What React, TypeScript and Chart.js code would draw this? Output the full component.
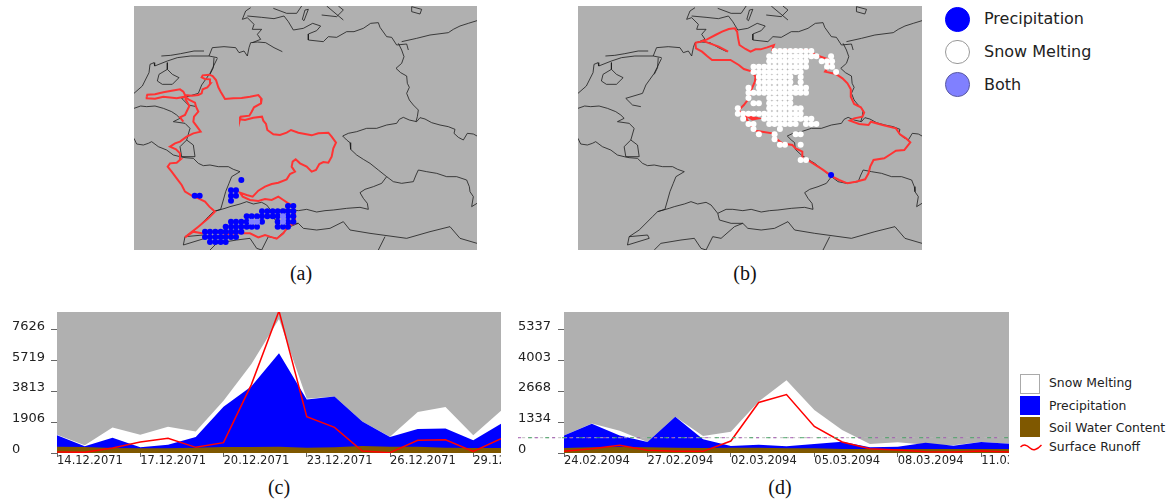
import React, { useEffect, useRef } from "react";
import { Chart, registerables } from "chart.js";

Chart.register(...registerables);

// ---------- map data (map units: 3 units per reference pixel) ----------
const borderPaths: number[][][] = [
  [[94,168],[122,166],[152,161],[192,153],[222,153]],
  [[237,168],[247,143],[282,140],[317,143],[327,158],[342,153],[352,168],[357,143],[362,128],[382,126],[407,128],[432,143],[457,155]],
  [[367,128],[392,118],[382,103],[395,88],[367,88],[372,73],[352,53],[337,58],[347,33],[362,23]],
  [[352,48],[395,52],[432,56],[462,48],[475,65],[490,90],[520,85],[548,70],[572,78],[560,92],[535,102],[535,120],[580,125],[595,110],[620,112],[650,95],[672,95],[700,85],[722,70],[745,68],[750,82],[770,110],[785,112],[800,135],[830,132],[835,150]],
  [[12,280],[37,258],[57,218],[60,193],[72,188],[74,198],[112,183],[142,173],[182,168],[237,168],[262,173]],
  [[112,188],[112,208],[87,223],[82,243],[97,253],[127,253],[147,233],[127,223],[112,208]],
  [[252,173],[250,203],[240,223]],
  [[815,125],[860,115],[900,105],[955,98],[970,88],[990,78],[1015,70],[1041,62]],
  [[805,130],[815,150],[822,170],[815,190],[798,205],[812,218],[830,228],[832,250],[838,262],[830,280],[838,300],[850,315],[865,330],[862,350],[858,365]],
  [[860,365],[870,353],[885,357],[905,368],[930,375],[955,380],[975,388],[972,400],[985,412],[1000,420],[1012,400],[1030,402],[1041,408]],
  [[860,365],[838,360],[820,352],[808,358],[800,370],[770,375],[740,385],[710,385],[680,395],[655,400],[638,408],[650,420],[660,428],[662,448],[680,465],[700,478],[720,490],[745,510],[770,530]],
  [[770,530],[790,545],[815,550],[850,545],[858,525],[865,510],[890,515],[920,520],[950,530],[980,530],[1010,540],[1018,560],[1020,575],[1030,590],[1025,620],[1041,610]],
  [[770,530],[755,550],[730,560],[705,568],[690,578],[700,595],[712,610],[715,628],[690,622],[650,625],[610,630],[585,632],[560,636],[530,628],[505,632],[475,628],[455,628],[430,640],[410,615],[395,607],[370,612],[350,605],[330,612],[300,620],[285,625],[250,635]],
  [[250,635],[272,628],[280,600],[287,575],[297,550],[305,530],[330,515],[310,508],[295,500],[265,500],[240,495],[220,497],[205,490],[190,475],[165,473],[150,470],[130,465],[110,450],[85,440],[65,425],[55,430],[40,435],[20,432],[12,415]],
  [[262,175],[240,220],[215,255],[205,280],[155,295],[175,315],[200,320]],
  [[12,325],[32,318],[50,320],[75,318],[100,325],[125,335],[140,345],[150,355],[130,365],[165,370],[180,385],[170,420]],
  [[170,420],[150,440],[155,470],[195,470],[190,435],[170,420]],
  [[250,635],[235,650],[195,690],[165,710],[160,735],[225,715],[220,705],[165,710]],
  [[240,750],[260,730],[320,720],[360,715],[380,745],[395,750],[415,710],[440,715],[480,680],[505,670],[520,685],[560,690],[600,685],[640,665],[660,690],[720,700],[830,715],[900,695],[960,680],[990,715],[1041,730]],
  [[430,640],[435,660],[470,670],[505,670]],
  [[765,710],[745,750]],
  [[845,20],[875,28],[870,42],[845,35],[845,20]],
  [[525,30],[535,28],[522,62],[517,58],[525,30]],
  [[575,45],[620,50],[640,30],[625,18]],
  [[590,18],[640,60]],
  [[430,25],[470,40],[500,40],[515,18]],
];

const rhineBasin: number[][] = [
  [50,290],[52,284],[75,283],[100,277],[125,272],[150,268],[160,275],[165,285],[185,287],[205,285],[215,280],[218,268],[232,262],[242,250],[240,238],[225,237],[215,232],[218,226],[238,224],[248,228],[258,240],[265,262],[272,275],[285,297],[310,295],[335,294],[360,290],[385,285],[395,297],[393,310],[372,322],[365,335],[358,347],[332,350],[330,358],[345,360],[370,353],[396,350],[400,362],[408,372],[412,390],[430,403],[450,405],[470,398],[483,390],[505,398],[525,402],[545,406],[565,400],[595,398],[605,410],[618,428],[610,445],[605,470],[595,488],[580,486],[568,492],[558,510],[545,515],[530,500],[510,490],[497,478],[488,485],[485,500],[495,515],[480,522],[470,538],[445,548],[425,552],[405,560],[385,572],[368,590],[350,585],[330,578],[338,590],[360,600],[385,603],[405,597],[425,600],[445,590],[460,600],[475,610],[490,618],[495,640],[495,670],[475,678],[460,700],[440,716],[420,710],[405,705],[385,712],[360,700],[325,700],[290,702],[250,695],[215,700],[190,695],[165,712],[180,700],[205,680],[235,655],[255,635],[238,620],[225,605],[205,595],[190,590],[165,575],[155,555],[140,535],[125,515],[113,500],[120,490],[140,488],[152,478],[150,460],[138,448],[120,440],[135,430],[150,425],[170,410],[190,400],[212,395],[205,385],[190,365],[192,350],[205,335],[198,320],[195,308],[178,300],[165,290],[140,295],[100,290],[75,296],[50,295],[50,290],
];
const rhineBranch: number[][] = [[165,295],[178,318],[165,345],[150,352],[160,365]];

const elbeBasin: number[][] = [
  [363,128],[378,125],[398,118],[423,105],[443,95],[463,87],[481,85],[488,95],[491,115],[495,135],[513,147],[528,155],[543,148],[558,148],[578,142],[598,135],[593,150],[650,150],[703,150],[723,165],[760,178],[761,200],[751,215],[783,222],[803,235],[818,250],[828,268],[828,290],[838,312],[858,322],[868,338],[863,350],[838,355],[825,362],[853,372],[881,375],[888,365],[923,375],[963,385],[975,403],[993,415],[1006,427],[988,450],[963,452],[948,462],[928,475],[896,480],[886,500],[881,520],[871,538],[843,545],[818,550],[793,540],[773,530],[743,508],[703,483],[683,475],[683,455],[663,445],[653,435],[623,430],[603,415],[593,400],[563,395],[543,392],[528,375],[518,360],[513,345],[533,358],[551,355],[528,350],[503,345],[493,330],[508,315],[521,298],[528,275],[541,245],[543,230],[533,215],[508,207],[493,195],[468,180],[443,180],[413,180],[398,168],[383,155],[365,145],[363,128],
];
const elbeEstuary: number[][] = [[383,122],[433,140],[461,155]];

const precipRowsA: [number, number[]][] = [
  [540,[334]],
  [571,[303,318]],
  [587,[194,209,303,318]],
  [602,[303]],
  [618,[474,490]],
  [634,[396,412,428,443,459,474,490]],
  [649,[350,365,381,396,412,428,443,474,490]],
  [665,[303,318,334,350,396,443,474,490]],
  [680,[287,303,318,334,350,365,381,443,459,474]],
  [695,[225,240,256,272,287,303,318,334]],
  [711,[225,240,256,272,287,303,318]],
  [726,[240,256,272,287]],
];
const bothRowsA: [number, number[]][] = [
  [649,[459]],
  [665,[365,381,459]],
];
const snowRowsB: [number, number[]][] = [
  [153,[600,616,631,647,663,678,694,710]],
  [169,[584,600,616,631,647,663,678,694,710,725,769]],
  [184,[584,600,616,631,647,663,678,694,741,757,772]],
  [200,[537,553,569,584,600,616,631,647,663,678,694,757,772]],
  [216,[537,553,569,584,600,616,631,647,663,678,784]],
  [231,[553,569,584,600,616,631,647,678]],
  [247,[553,569,584,600,616,631,647,678]],
  [263,[522,553,569,584,600,616,631,647,663,678,694]],
  [278,[522,537,553,569,584,600,616,631,647,663,678,694]],
  [294,[522,584,600,616,631,647]],
  [310,[537,553,584,600,616,631,647]],
  [325,[490,584,600,616,631,647,663,678]],
  [341,[490,506,522,537,553,569,584,600,616,631,647,663,678]],
  [356,[506,569,584,600,616,631,647,663,678,694,710]],
  [372,[522,537,584,600,616,631,647,663,694,710,725]],
  [387,[537,616]],
  [403,[553,600,663,678]],
  [418,[600]],
  [434,[616,631,678]],
  [480,[678,694]],
];
const precipDotsB: number[][] = [[769,525]];

// ---------- time-series data ----------
const tickValuesC = [0, 1906, 3813, 5719, 7626];
const axisMaxC = 8735;
const dateLabelsC = ["14.12.2071", "17.12.2071", "20.12.2071", "23.12.2071", "26.12.2071", "29.12.2071"];
const snowC = [1133,474,1586,1133,1627,1339,3234,5500,8302,3358,3502,1957,1009,2534,2843,1092,2616];
const precipC = [1092,412,948,350,515,989,2863,4120,6180,3317,3502,1957,989,1483,1524,783,1813];
const soilC = [391,371,309,288,288,330,371,371,391,330,350,433,391,391,330,309,309];
const runoffC = [62,41,309,680,906,350,639,4223,8800,2245,1586,124,21,783,824,103,886];

const tickValuesD = [0, 1334, 2668, 4003, 5337];
const axisMaxD = 6115;
const dateLabelsD = ["24.02.2094", "27.02.2094", "02.03.2094", "05.03.2094", "08.03.2094", "11.03.2094"];
const snowD = [764,1283,966,476,1572,735,923,2235,3158,1860,995,389,461,361,332,476,404];
const precipD = [764,1269,764,476,1572,591,303,361,288,389,490,245,274,447,317,476,404];
const soilD = [216,245,260,245,231,216,231,231,202,202,173,173,173,173,173,173,173];
const runoffD = [72,187,332,115,72,72,519,2192,2538,1154,476,187,130,58,43,87,43];
const artefactLevelD = 663;
const artefactSpanD = [-1.65, 16];

const mapLegend = [
  { label: "Precipitation", fill: "#0000ff", stroke: "#0000ff" },
  { label: "Snow Melting", fill: "#ffffff", stroke: "#999999" },
  { label: "Both", fill: "#8080ff", stroke: "#5a5aa0" },
];
const seriesLegend = [
  { label: "Snow Melting", fill: "#ffffff", stroke: "#aaaaaa" },
  { label: "Precipitation", fill: "#0000ff", stroke: "#0000ff" },
  { label: "Soil Water Content", fill: "#7f5800", stroke: "#7f5800" },
];
const captions = [
  { text: "(a)", x: 301, y: 273 },
  { text: "(b)", x: 745, y: 273 },
  { text: "(c)", x: 279, y: 487 },
  { text: "(d)", x: 780, y: 487 },
];

// ---------- colours ----------
const GREY = "#b0b0b0";
const BLUE = "#0000ff";
const BROWN = "#7f5800";
const RED = "#ff0000";
const FONT = "'DejaVu Sans'";

const plotBackground = {
  id: "plotBackground",
  beforeDraw(chart: any) {
    const { ctx, chartArea: a } = chart;
    ctx.save();
    ctx.fillStyle = GREY;
    ctx.fillRect(a.left, a.top, a.right - a.left, a.bottom - a.top);
    ctx.restore();
  },
};

const pts = (p: number[][]) => p.map(([x, y]) => ({ x, y }));
const rowPts = (rows: [number, number[]][]) =>
  rows.flatMap(([y, xs]) => xs.map((x) => ({ x, y })));

function mapConfig(red: number[][][], dots: { data: any[]; color: string }[]) {
  const lineSet = (data: any[], color: string, width: number) => ({
    type: "line",
    data,
    borderColor: color,
    borderWidth: width,
    pointRadius: 0,
    fill: false,
    tension: 0,
    parsing: false,
  });
  return {
    type: "scatter",
    data: {
      datasets: [
        ...dots.map((d) => ({
          data: d.data,
          backgroundColor: d.color,
          borderWidth: 0,
          pointRadius: 3,
          pointHoverRadius: 3,
        })),
        ...red.map((p) => lineSet(pts(p), "#ff3333", 2)),
        ...borderPaths.map((p) => lineSet(pts(p), "#1c1c1c", 0.8)),
      ],
    },
    options: {
      animation: false,
      responsive: false,
      layout: { padding: 0, autoPadding: false },
      plugins: { legend: { display: false }, tooltip: { enabled: false } },
      scales: {
        x: { type: "linear", display: false, min: 12, max: 1041 },
        y: { type: "linear", display: false, min: 18, max: 750, reverse: true },
      },
    },
    plugins: [plotBackground],
  };
}

function seriesConfig(o: {
  snow: number[]; precip: number[]; soil: number[]; runoff: number[];
  ticks: number[]; dates: string[]; max: number; axisWidth: number; extra?: any[];
}) {
  const series = (v: number[]) => v.map((y, x) => ({ x, y }));
  const area = (v: number[], color: string) => ({
    data: series(v), backgroundColor: color, borderColor: color, borderWidth: 0,
    pointRadius: 0, fill: "origin", tension: 0,
  });
  return {
    type: "line",
    data: {
      datasets: [
        ...(o.extra ?? []),
        { data: series(o.runoff), borderColor: RED, borderWidth: 1.5, pointRadius: 0, fill: false, tension: 0 },
        area(o.soil, BROWN),
        area(o.precip, BLUE),
        area(o.snow, "#ffffff"),
      ],
    },
    options: {
      animation: false,
      responsive: false,
      layout: { padding: { top: 12, left: 0, right: 0, bottom: 0 }, autoPadding: false },
      plugins: { legend: { display: false }, tooltip: { enabled: false } },
      scales: {
        x: {
          type: "linear", min: 0, max: 16,
          afterBuildTicks: (s: any) => { s.ticks = o.dates.map((_, i) => ({ value: i * 3 })); },
          afterFit: (s: any) => { s.height = 18; s.paddingLeft = 0; s.paddingRight = 0; },
          border: { display: false },
          grid: { drawOnChartArea: false, tickLength: 4, tickColor: "#666666" },
          ticks: {
            autoSkip: false, maxRotation: 0, minRotation: 0, align: "start", padding: -3,
            color: "#222222", font: { family: FONT, size: 11.5 },
            callback: (v: number) => o.dates[Math.round(v / 3)],
          },
        },
        y: {
          type: "linear", min: 0, max: o.max,
          afterBuildTicks: (s: any) => { s.ticks = o.ticks.map((value) => ({ value })); },
          afterFit: (s: any) => { s.width = o.axisWidth; s.paddingTop = 0; s.paddingBottom = 0; },
          border: { display: false },
          grid: { drawOnChartArea: false, tickLength: 6, tickColor: "#666666" },
          ticks: {
            crossAlign: "far", labelOffset: -3.5, color: "#222222",
            font: { family: FONT, size: 13 },
            callback: (v: number) => (v === 0 ? "0" : String(v)),
          },
        },
      },
    },
    plugins: [plotBackground],
  };
}

const artefact = (color: string, dash: number[], offset: number) => ({
  data: artefactSpanD.map((x) => ({ x, y: artefactLevelD })),
  borderColor: color,
  borderWidth: 0.9,
  borderDash: dash,
  borderDashOffset: offset,
  pointRadius: 0,
  fill: false,
  clip: false,
});

function Panel({ config, left, top, width, height }: any) {
  const ref = useRef<HTMLCanvasElement>(null);
  useEffect(() => {
    const chart = new Chart(ref.current as any, config());
    return () => chart.destroy();
  }, []);
  return (
    <canvas
      ref={ref}
      width={width}
      height={height}
      style={{ position: "absolute", left, top, width, height, display: "block" }}
    />
  );
}

const textStyle = (x: number, y: number, size: number): React.CSSProperties => ({
  position: "absolute", left: x, top: y, transform: "translateY(-50%)",
  fontFamily: FONT, fontSize: size, lineHeight: 1, color: "#222222", whiteSpace: "nowrap",
});

export default function App() {
  return (
    <div style={{ position: "absolute", left: 0, top: 0, width: 1174, height: 499, overflow: "hidden", background: "#fff", filter: "blur(0.35px)" }}>
      <Panel
        left={134} top={6} width={343} height={244}
        config={() => mapConfig([rhineBasin, rhineBranch], [
          { data: rowPts(bothRowsA), color: "#8080ff" },
          { data: rowPts(precipRowsA), color: BLUE },
        ])}
      />
      <Panel
        left={578} top={6} width={344} height={244}
        config={() => mapConfig([elbeBasin, elbeEstuary], [
          { data: pts(precipDotsB), color: BLUE },
          { data: rowPts(snowRowsB), color: "#ffffff" },
        ])}
      />
      <Panel
        left={12} top={300} width={489} height={171}
        config={() => seriesConfig({ snow: snowC, precip: precipC, soil: soilC, runoff: runoffC, ticks: tickValuesC, dates: dateLabelsC, max: axisMaxC, axisWidth: 45 })}
      />
      <Panel
        left={518} top={300} width={491} height={171}
        config={() => seriesConfig({
          snow: snowD, precip: precipD, soil: soilD, runoff: runoffD, ticks: tickValuesD, dates: dateLabelsD, max: axisMaxD, axisWidth: 46,
          extra: [
            artefact("#a04fb0", [3, 14], 0),
            artefact("#3f9f5f", [4, 13], 7),
            artefact("#b8b8b8", [3, 3], 2),
          ],
        })}
      />

      {mapLegend.map((l, i) => (
        <React.Fragment key={l.label}>
          <div style={{
            position: "absolute", left: 945, top: 7 + i * 32.5, width: 24.5, height: 24.5, boxSizing: "border-box",
            borderRadius: "50%", background: l.fill, border: `1px solid ${l.stroke}`,
          }} />
          <div style={textStyle(984, 19 + i * 33, 16)}>{l.label}</div>
        </React.Fragment>
      ))}

      {seriesLegend.map((l, i) => (
        <React.Fragment key={l.label}>
          <div style={{
            position: "absolute", left: 1020, top: 374 + i * 21.7, width: 19.5, height: 19.5, boxSizing: "border-box",
            background: l.fill, border: `1px solid ${l.stroke}`,
          }} />
          <div style={textStyle(1049, 383 + i * 22.6, 12.4)}>{l.label}</div>
        </React.Fragment>
      ))}
      <svg style={{ position: "absolute", left: 1020, top: 442 }} width={22} height={11}>
        <path d="M0.5 5 C4 1.5 7 3 10 6 C13 9 17 8 21.5 3" fill="none" stroke={RED} strokeWidth={1.4} />
      </svg>
      <div style={textStyle(1049, 447, 12.4)}>Surface Runoff</div>

      {captions.map((c) => (
        <div key={c.text} style={{
          position: "absolute", left: c.x, top: c.y, transform: "translate(-50%,-50%)",
          fontFamily: "'Liberation Serif'", fontSize: 20, lineHeight: 1, color: "#111111",
        }}>{c.text}</div>
      ))}
    </div>
  );
}
